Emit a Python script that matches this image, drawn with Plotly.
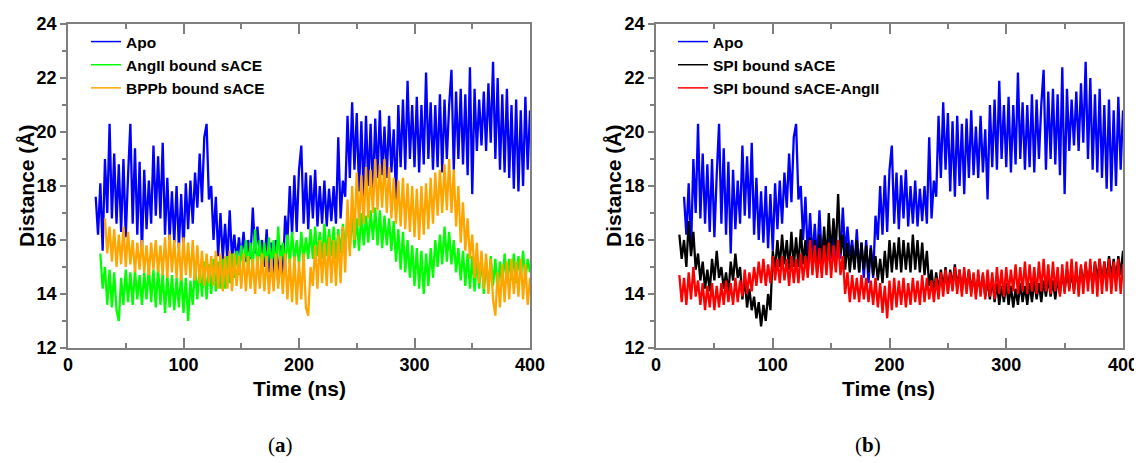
import plotly.graph_objects as go

# Czas (ns): start każdej serii, krok 2 ns
STEP = 2
apo_start = 24
angii_start = 28
bppb_start = 32
spi_start = 20
spi_angii_start = 20

# Odległość (Å) - Apo (ta sama seria na obu panelach)
apo = [
    17.6, 16.2, 18.1, 15.6, 19.0, 17.0, 20.3, 16.8, 19.2, 16.6,
    18.8, 16.3, 19.0, 16.1, 18.4, 20.3, 16.6, 19.4, 16.2, 18.9,
    15.5, 18.6, 16.4, 18.2, 16.6, 19.5, 16.9, 19.1, 16.8, 19.6,
    16.2, 18.3, 16.0, 17.8, 15.9, 18.0, 15.7, 17.7, 15.6, 18.1,
    16.4, 18.2, 16.6, 18.5, 17.2, 19.2, 17.4, 19.8, 20.3, 17.5,
    18.0, 16.0, 17.6, 15.4, 17.0, 15.3, 16.6, 15.2, 17.1, 15.3,
    16.2, 15.2, 16.1, 15.3, 16.3, 15.2, 16.0, 15.3, 17.2, 15.5,
    16.5, 15.4, 16.0, 15.0, 16.4, 14.8, 15.9, 14.6, 16.0, 14.4,
    15.8, 14.6, 16.9, 16.0, 18.0, 16.2, 18.4, 16.3, 18.6, 19.5,
    16.6, 18.5, 16.4, 18.4, 16.8, 18.6, 16.5, 18.0, 16.6, 18.2,
    16.5, 17.9, 16.7, 18.0, 16.6, 19.8, 16.8, 18.2, 17.6, 20.6,
    18.3, 21.1, 18.6, 20.7, 17.8, 20.4, 17.6, 20.6, 18.0, 20.3,
    17.7, 20.5, 18.3, 20.8, 18.4, 20.2, 18.3, 20.6, 18.5, 20.1,
    17.5, 21.0, 18.7, 21.2, 18.6, 21.9, 19.0, 21.0, 18.7, 21.3,
    18.5, 21.0, 18.8, 22.2, 19.0, 21.1, 18.6, 21.0, 18.7, 21.4,
    18.5, 21.2, 19.0, 21.0, 22.3, 18.6, 21.5, 19.0, 21.6, 18.8,
    21.4, 18.4, 22.4, 17.7, 21.6, 19.3, 21.2, 19.5, 21.5, 19.3,
    21.8, 19.6, 22.6, 19.0, 22.0, 18.6, 21.4, 18.5, 21.6, 18.3,
    21.0, 17.9, 21.2, 17.8, 20.8, 18.0, 21.3, 18.6, 20.8,
]

# AngII bound sACE
angii = [
    15.5, 14.2, 15.0, 13.6, 14.9, 13.5, 14.8, 13.4, 13.0, 14.6,
    13.6, 14.9, 13.7, 14.8, 13.6, 14.9, 13.8, 14.7, 13.6, 14.8,
    13.8, 15.0, 13.7, 14.9, 13.5, 15.0, 13.6, 14.8, 13.3, 14.7,
    13.5, 14.7, 13.4, 14.6, 13.5, 14.8, 13.3, 14.6, 13.0, 14.5,
    13.6, 15.0, 13.8, 15.1, 13.9, 15.2, 13.8, 15.1, 14.0, 15.3,
    14.1, 15.2, 14.2, 15.3, 14.2, 15.4, 14.4, 15.5, 14.6, 15.6,
    14.7, 15.8, 14.9, 16.0, 14.8, 15.9, 15.0, 16.4, 14.9, 16.0,
    15.0, 15.9, 14.9, 16.1, 15.0, 16.0, 14.9, 16.5, 15.0, 15.9,
    15.1, 16.2, 15.1, 16.3, 15.2, 16.0, 15.1, 16.3, 15.2, 16.1,
    15.3, 16.4, 15.3, 16.5, 15.4, 16.3, 15.3, 16.6, 15.4, 16.4,
    15.4, 16.5, 15.3, 16.4, 15.5, 16.6, 15.6, 16.9, 15.6, 17.0,
    15.7, 16.8, 15.6, 17.0, 15.8, 16.9, 15.9, 17.1, 16.0, 17.2,
    15.8, 17.1, 15.7, 16.9, 15.8, 16.8, 15.6, 16.7, 15.2, 16.4,
    14.9, 16.3, 14.8, 16.0, 14.6, 15.8, 14.3, 15.7, 14.2, 15.6,
    14.0, 15.5, 14.3, 15.7, 14.6, 16.0, 15.0, 16.2, 15.1, 16.5,
    15.2, 16.3, 15.1, 16.0, 14.8, 15.7, 14.5, 15.6, 14.3, 15.5,
    14.2, 15.4, 14.1, 15.3, 14.2, 15.4, 14.0, 15.2, 14.2, 15.4,
    14.3, 15.3, 14.1, 15.2, 14.3, 15.5, 14.4, 15.3, 14.5, 15.5,
    14.4, 15.4, 14.6, 15.6, 14.5, 15.3, 14.8,
]

# BPPb bound sACE
bppb = [
    16.8, 15.5, 16.5, 15.2, 16.4, 15.0, 16.2, 15.1, 16.5, 15.0,
    16.3, 15.1, 16.0, 14.8, 15.9, 14.9, 16.0, 14.8, 15.8, 14.7,
    15.9, 14.9, 16.0, 14.8, 15.8, 14.7, 16.1, 14.6, 16.2, 14.8,
    16.0, 14.6, 15.9, 14.5, 16.1, 14.7, 15.9, 14.6, 16.0, 14.5,
    15.8, 14.4, 15.6, 14.3, 15.5, 14.4, 15.4, 14.3, 15.6, 14.2,
    15.5, 14.1, 15.4, 14.2, 15.6, 14.1, 15.5, 14.3, 15.4, 14.2,
    15.5, 14.1, 15.4, 14.2, 15.3, 14.0, 15.4, 14.2, 15.5, 14.1,
    15.4, 14.0, 15.3, 14.1, 15.5, 14.2, 15.4, 14.0, 15.5, 13.8,
    15.3, 13.7, 15.4, 13.6, 15.2, 13.8, 15.5, 13.5, 13.2, 15.0,
    14.3, 15.8, 14.2, 16.0, 14.4, 15.9, 14.3, 16.1, 14.4, 16.0,
    14.3, 16.2, 14.4, 16.5, 14.8, 17.5, 15.4, 18.0, 16.0, 18.5,
    16.5, 18.4, 16.6, 18.7, 16.8, 18.6, 17.0, 19.0, 17.1, 18.8,
    17.2, 19.0, 17.0, 18.7, 16.8, 18.3, 16.6, 18.2, 16.5, 18.3,
    16.4, 18.1, 16.3, 18.0, 16.1, 17.9, 16.0, 18.0, 16.2, 18.1,
    16.4, 18.3, 16.6, 18.5, 16.9, 18.6, 17.0, 18.8, 17.1, 19.0,
    17.0, 18.6, 16.5, 18.0, 15.9, 17.4, 15.6, 16.8, 15.3, 16.2,
    14.6, 15.9, 14.4, 15.6, 14.2, 15.5, 14.0, 15.3, 13.8, 13.2,
    14.8, 13.5, 15.1, 13.7, 15.2, 13.8, 15.3, 14.0, 15.2, 13.9,
    15.3, 13.8, 15.1, 13.6, 14.6,
]

# SPI bound sACE
spi = [
    16.2, 15.3, 16.0, 15.0, 16.7, 15.4, 16.3, 14.9, 15.5, 14.5,
    15.2, 14.2, 14.9, 14.1, 15.3, 14.5, 15.6, 14.6, 15.0, 14.2,
    14.8, 14.0, 15.2, 14.5, 15.5, 14.6, 15.0, 13.8, 14.6, 13.5,
    14.2, 13.4, 13.9, 13.1, 13.7, 12.8, 13.6, 13.0, 14.0, 13.4,
    15.6, 14.9, 16.0, 15.0, 16.2, 15.1, 16.0, 14.9, 16.3, 15.0,
    16.1, 15.0, 16.4, 15.1, 16.0, 14.8, 16.1, 14.9, 16.0, 14.8,
    16.2, 15.0, 16.5, 15.2, 17.0, 15.4, 16.8, 15.6, 17.7, 15.5,
    16.2, 14.9, 15.9, 14.8, 15.8, 14.9, 16.0, 14.8, 15.9, 14.9,
    15.8, 14.8, 15.7, 14.7, 15.4, 14.5, 15.3, 14.4, 15.6, 14.6,
    16.0, 14.8, 15.9, 14.9, 16.1, 14.8, 16.0, 14.9, 15.9, 14.8,
    16.2, 14.9, 16.0, 14.8, 15.9, 14.7, 15.6, 14.3, 14.9, 14.0,
    14.8, 14.1, 14.9, 14.2, 15.0, 14.1, 14.9, 14.3, 15.1, 14.2,
    14.9, 14.1, 14.8, 14.2, 14.9, 14.1, 14.7, 14.0, 14.6, 14.1,
    14.7, 13.9, 14.5, 13.8, 14.6, 13.7, 14.4, 13.6, 14.3, 13.7,
    14.4, 13.6, 14.3, 13.5, 14.2, 13.6, 14.4, 13.7, 14.3, 13.6,
    14.4, 13.7, 14.5, 13.8, 14.4, 13.7, 14.5, 13.9, 14.6, 13.9,
    14.5, 13.8, 14.6, 14.0, 14.8, 14.1, 14.9, 14.2, 14.8, 14.1,
    14.9, 14.2, 15.0, 14.3, 15.1, 14.4, 15.0, 14.3, 15.2, 14.5,
    15.3, 14.4, 15.2, 14.5, 15.4, 14.6, 15.3, 14.5, 15.4, 14.7,
    15.6,
]

# SPI bound sACE-AngII
spi_angii = [
    14.7, 13.7, 14.6, 13.6, 14.8, 13.8, 15.0, 13.9, 14.5, 13.6,
    14.4, 13.4, 14.3, 13.5, 14.4, 13.4, 14.3, 13.5, 14.4, 13.6,
    14.5, 13.7, 14.4, 13.6, 14.6, 13.7, 14.5, 13.9, 14.9, 14.0,
    14.8, 14.1, 15.0, 14.3, 15.2, 14.4, 15.3, 14.3, 15.1, 14.4,
    15.4, 14.5, 15.3, 14.4, 15.4, 14.5, 15.3, 14.3, 15.4, 14.4,
    15.3, 14.4, 15.5, 14.5, 15.4, 14.6, 16.0, 14.7, 15.8, 14.6,
    15.7, 14.6, 15.8, 14.7, 15.9, 14.6, 15.8, 14.8, 16.0, 14.7,
    15.4, 14.0, 14.8, 13.7, 14.7, 13.8, 14.6, 13.7, 14.7, 13.8,
    14.6, 13.7, 14.5, 13.6, 14.6, 13.5, 14.4, 13.3, 14.3, 13.1,
    14.5, 13.4, 14.6, 13.5, 14.5, 13.6, 14.6, 13.5, 14.4, 13.6,
    14.6, 13.7, 14.5, 13.6, 14.7, 13.7, 14.6, 13.8, 14.5, 13.7,
    14.6, 13.8, 14.8, 13.9, 14.9, 14.0, 14.8, 14.1, 15.0, 14.0,
    14.9, 13.9, 15.0, 14.0, 14.9, 13.9, 14.8, 13.8, 14.9, 13.9,
    14.8, 13.8, 14.9, 13.9, 14.8, 13.8, 15.0, 14.0, 14.9, 13.9,
    15.0, 14.0, 14.9, 14.1, 15.1, 14.0, 15.0, 14.1, 15.2, 14.0,
    15.1, 14.1, 15.0, 14.0, 15.2, 14.1, 15.3, 14.1, 15.1, 14.0,
    15.2, 14.1, 15.0, 13.9, 15.1, 14.0, 15.2, 14.1, 15.3, 14.0,
    15.2, 13.9, 15.1, 14.0, 15.2, 14.1, 15.3, 14.0, 15.2, 13.9,
    15.3, 14.0, 15.2, 14.1, 15.3, 14.0, 15.2, 14.1, 15.3, 14.0,
    15.1,
]


def czasy(start, wartosci):
    return [start + STEP * i for i in range(len(wartosci))]


FONT = "Liberation Sans"
AXIS_GRAY = "#7f7f7f"
LW = 2.3

# strona ma 8 px marginesu body, więc papier ma 1134 x 455
W, H = 1134, 455

def px_x(p):
    return (p - 8) / W

def px_y(p):
    return 1 - (p - 8) / H

fig = go.Figure()


def dodaj_panel(serie, xa, ya, leg):
    for nazwa, start, y, kolor in serie:
        fig.add_trace(go.Scatter(
            x=czasy(start, y), y=y, mode="lines", name=nazwa,
            line=dict(color=kolor, width=LW), showlegend=False,
            xaxis=xa, yaxis=ya,
        ))
    # wpisy legendy z cienką linią
    for nazwa, start, y, kolor in serie:
        fig.add_trace(go.Scatter(
            x=[None], y=[None], mode="lines", name=nazwa,
            line=dict(color=kolor, width=1.5),
            xaxis=xa, yaxis=ya, legend=leg,
        ))


dodaj_panel([
    ("Apo", apo_start, apo, "#0000ff"),
    ("AngII bound sACE", angii_start, angii, "#00ff00"),
    ("BPPb bound sACE", bppb_start, bppb, "#ffa500"),
], "x", "y", "legend")

dodaj_panel([
    ("Apo", apo_start, apo, "#0000ff"),
    ("SPI bound sACE", spi_start, spi, "#000000"),
    ("SPI bound sACE-AngII", spi_angii_start, spi_angii, "#ff0000"),
], "x2", "y2", "legend2")

tick_font = dict(family=FONT, size=18, color="black", weight="bold")
title_font = dict(family=FONT, size=21, color="black", weight="bold")
Y_DOM = [px_y(348), px_y(24)]


def os_x(domena, kotwica):
    return dict(
        domain=domena, anchor=kotwica, range=[0, 400], tick0=0, dtick=100,
        ticks="inside", ticklen=10, tickwidth=1.5, tickcolor=AXIS_GRAY,
        minor=dict(dtick=50, ticks="inside", ticklen=5, tickwidth=1.5, tickcolor=AXIS_GRAY),
        showline=True, linecolor=AXIS_GRAY, linewidth=1.5, mirror="ticks",
        showgrid=False, zeroline=False, tickfont=tick_font, automargin=False,
    )


def os_y(kotwica):
    return dict(
        domain=Y_DOM, anchor=kotwica, range=[12, 24], tick0=12, dtick=2,
        ticks="outside", ticklen=6, tickwidth=1.5, tickcolor=AXIS_GRAY,
        minor=dict(dtick=1, ticks="outside", ticklen=4, tickwidth=1.5, tickcolor=AXIS_GRAY),
        showline=True, linecolor=AXIS_GRAY, linewidth=1.5, mirror=True,
        showgrid=False, zeroline=False, tickfont=tick_font, automargin=False,
    )


def os_y_wew(kotwica, nad):
    return dict(
        domain=Y_DOM, anchor=kotwica, overlaying=nad, range=[12, 24],
        tick0=12, dtick=2, ticks="inside", ticklen=10, tickwidth=1.5, tickcolor=AXIS_GRAY,
        minor=dict(dtick=1, ticks="inside", ticklen=5, tickwidth=1.5, tickcolor=AXIS_GRAY),
        showline=True, linecolor=AXIS_GRAY, linewidth=1.5, mirror="ticks",
        showgrid=False, zeroline=False, showticklabels=False, automargin=False,
    )


legenda = dict(
    font=dict(family=FONT, size=15.5, color="black", weight="bold"),
    bgcolor="rgba(0,0,0,0)", tracegroupgap=0, itemwidth=30,
    xanchor="left", yanchor="top",
)


def napis(tekst, x, y, kat=0, font=title_font):
    return dict(text=tekst, x=px_x(x), y=px_y(y), xref="paper", yref="paper",
                xanchor="center", yanchor="middle", textangle=kat,
                showarrow=False, font=font)


caption_font = dict(family="Liberation Serif", size=21, color="black")

fig.update_layout(
    width=W, height=H,
    margin=dict(l=0, r=0, t=0, b=0, autoexpand=False),
    paper_bgcolor="white", plot_bgcolor="white",
    xaxis=os_x([px_x(68), px_x(530)], "y"),
    yaxis=os_y("x"),
    yaxis3=os_y_wew("x", "y"),
    xaxis2=os_x([px_x(656), px_x(1123)], "y2"),
    yaxis2=os_y("x2"),
    yaxis4=os_y_wew("x2", "y2"),
    legend=dict(legenda, x=px_x(86), y=px_y(25)),
    legend2=dict(legenda, x=px_x(673), y=px_y(25)),
    showlegend=True,
    annotations=[
        napis("Time (ns)", 299, 388),
        napis("Time (ns)", 888, 388),
        napis("Distance (Å)", 27, 186, -90),
        napis("Distance (Å)", 614, 186, -90),
        napis("(<b>a</b>)", 280, 445, font=caption_font),
        napis("(<b>b</b>)", 868, 445, font=caption_font),
    ],
)

fig.write_html("out.html")
